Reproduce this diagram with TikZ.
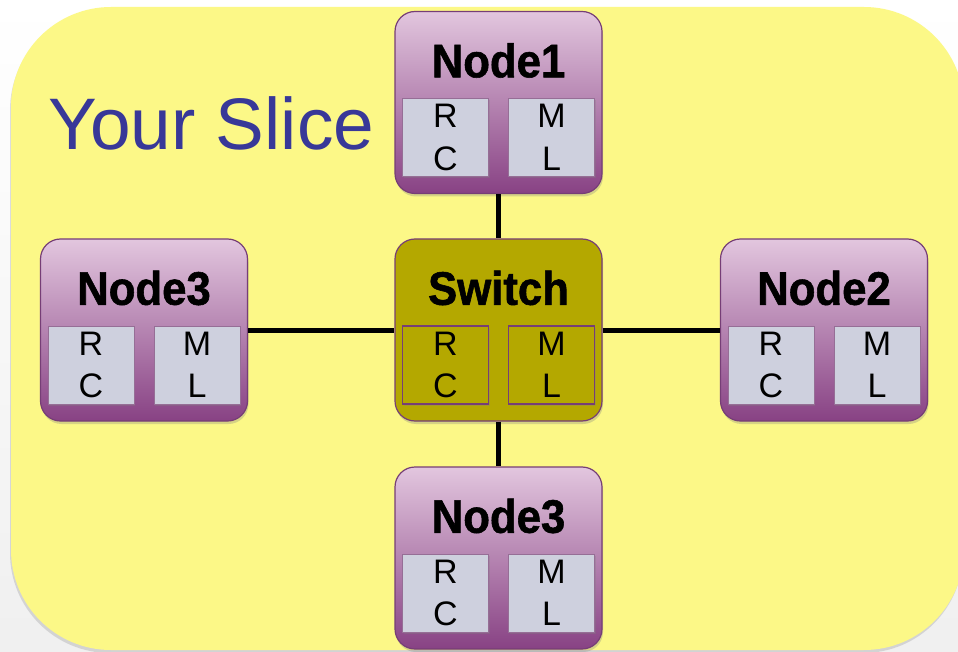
\documentclass[tikz,border=0pt]{standalone}
\usepackage{fontspec}
\setmainfont{Liberation Sans}
\newfontfamily\titlefont[FakeStretch=0.93,BoldFeatures={FakeBold=1.2}]{Liberation Sans}
\usetikzlibrary{shadows}
\definecolor{slicey}{RGB}{252,248,135}
\definecolor{slicetxt}{RGB}{56,56,152}
\definecolor{ptop}{RGB}{226,198,222}
\definecolor{pbot}{RGB}{136,66,132}
\definecolor{pedge}{RGB}{118,62,118}
\definecolor{olivebox}{RGB}{180,168,0}
\definecolor{innerfill}{RGB}{206,208,222}
\definecolor{inneredge}{RGB}{150,110,150}
\tikzset{
  bigbox/.style={rounded corners=20pt, minimum width=207pt, minimum height=182pt,
    inner sep=0pt, draw=pedge, line width=1.2pt,
    drop shadow={shadow xshift=1pt, shadow yshift=-3pt, opacity=0.3}},
  purplebox/.style={bigbox, top color=ptop, bottom color=pbot},
  switchbox/.style={bigbox, fill=olivebox},
  smallbox/.style={minimum width=86pt, minimum height=78pt, inner sep=0pt,
    align=center, font=\fontsize{34}{42.5}\selectfont, text=black,
    drop shadow={shadow xshift=1pt, shadow yshift=-2pt, opacity=0.3}},
  greybox/.style={smallbox, fill=innerfill, draw=inneredge, line width=0.8pt},
  olivesmall/.style={smallbox, fill=olivebox, draw=pedge, line width=1.4pt},
  titletext/.style={font=\titlefont\bfseries\fontsize{47}{50}\selectfont, text=black, inner sep=0pt},
  conn/.style={draw=black, line width=5pt}
}
\newcommand\unitbox[6]{%
  \begin{scope}[shift={(#2,#3)}]
    \node[#5] (#1) at (0,0) {};
    \node[titletext] (#1-t) at (0,-42) {#4};
    \node[#6] (#1-rc) at (-53,35) {R\\C};
    \node[#6] (#1-ml) at (53,35) {M\\L};
  \end{scope}}
\begin{document}
\begin{tikzpicture}[x=1pt,y=-1pt]
  \useasboundingbox (0,0) rectangle (958,652);
  \begin{scope}
    \clip (0,0) rectangle (958,652);
    \fill[top color=white, bottom color=gray!12] (0,0) rectangle (958,652);
    \path[fill=slicey, rounded corners=100pt,
      drop shadow={shadow xshift=-1pt, shadow yshift=-3pt, opacity=0.25}]
      (11,7) rectangle (964,650);
  \end{scope}
  \node[anchor=base west, inner sep=0pt, text=slicetxt,
    font=\fontsize{73}{80}\selectfont] (slice) at (48,150) {Your Slice};
  \unitbox{n1}{498.5}{102.5}{Node1}{purplebox}{greybox}
  \unitbox{sw}{498.5}{330}{Switch}{switchbox}{olivesmall}
  \unitbox{n3l}{144}{330}{Node3}{purplebox}{greybox}
  \unitbox{n2}{824}{330}{Node2}{purplebox}{greybox}
  \unitbox{n3b}{498.5}{558}{Node3}{purplebox}{greybox}
  \draw[conn] (n1) -- (sw);
  \draw[conn] (sw) -- (n3b);
  \draw[conn] (n3l) -- (sw);
  \draw[conn] (sw) -- (n2);
\end{tikzpicture}
\end{document}
